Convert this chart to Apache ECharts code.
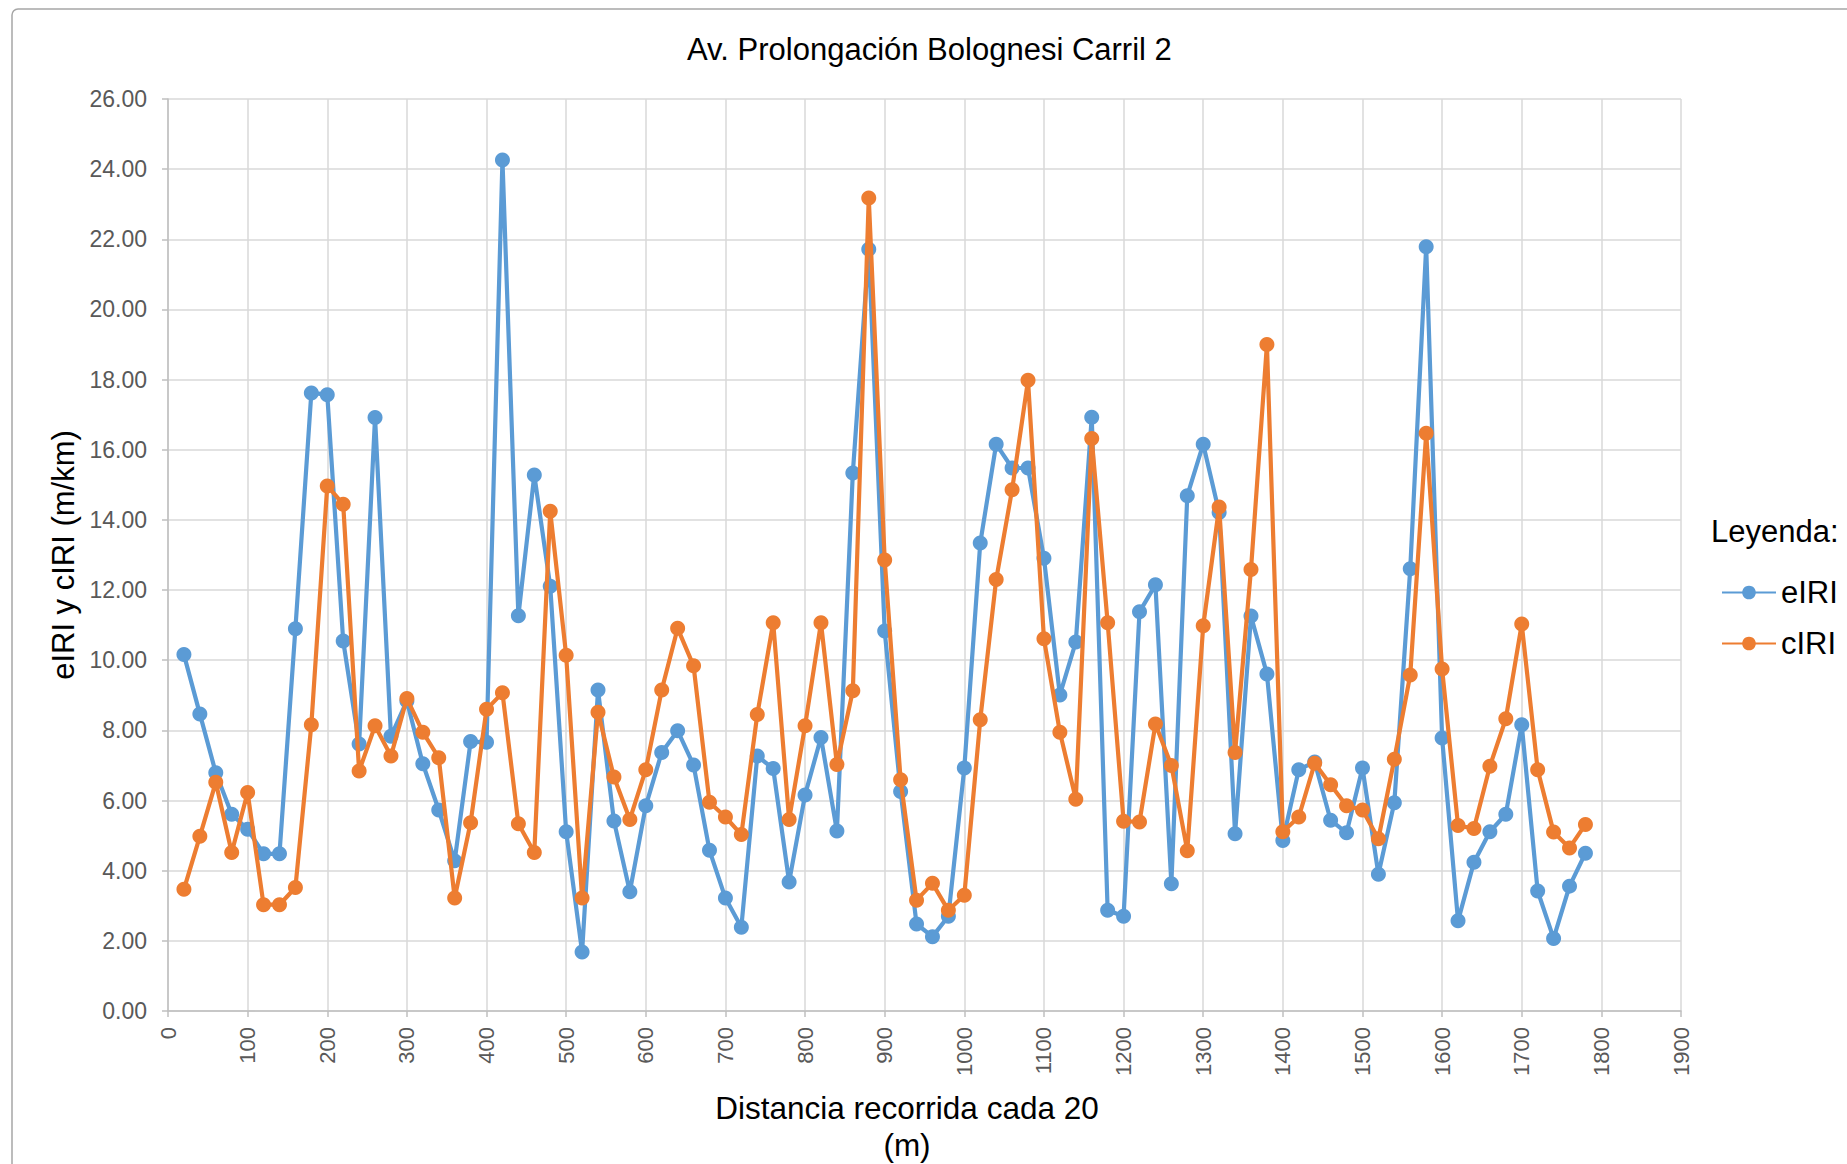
<!DOCTYPE html>
<html>
<head>
<meta charset="utf-8">
<title>Av. Prolongación Bolognesi Carril 2</title>
<script src="https://cdn.jsdelivr.net/npm/echarts@6/dist/echarts.min.js"></script>
<style>
  html, body { margin: 0; padding: 0; background: #ffffff; }
  #chart { width: 1847px; height: 1164px; }
</style>
</head>
<body>
<div id="chart"></div>
<script>
// Distance along the lane (m), one reading every 20 m
const distancias = [
  20, 40, 60, 80, 100, 120, 140, 160, 180, 200,
  220, 240, 260, 280, 300, 320, 340, 360, 380, 400,
  420, 440, 460, 480, 500, 520, 540, 560, 580, 600,
  620, 640, 660, 680, 700, 720, 740, 760, 780, 800,
  820, 840, 860, 880, 900, 920, 940, 960, 980, 1000,
  1020, 1040, 1060, 1080, 1100, 1120, 1140, 1160, 1180, 1200,
  1220, 1240, 1260, 1280, 1300, 1320, 1340, 1360, 1380, 1400,
  1420, 1440, 1460, 1480, 1500, 1520, 1540, 1560, 1580, 1600,
  1620, 1640, 1660, 1680, 1700, 1720, 1740, 1760, 1780
];

// eIRI (m/km)
const eIRI = [
  10.16, 8.47, 6.79, 5.61, 5.18, 4.48, 4.48, 10.90, 17.62, 17.57,
  10.55, 7.61, 16.92, 7.83, 8.84, 7.05, 5.73, 4.28, 7.68, 7.66,
  24.26, 11.27, 15.28, 12.11, 5.11, 1.68, 9.15, 5.42, 3.40, 5.85,
  7.37, 7.99, 7.01, 4.58, 3.22, 2.39, 7.27, 6.91, 3.68, 6.16,
  7.80, 5.13, 15.34, 21.72, 10.83, 6.26, 2.48, 2.12, 2.70, 6.93,
  13.34, 16.16, 15.48, 15.48, 12.91, 9.01, 10.52, 16.93, 2.87, 2.70,
  11.38, 12.15, 3.63, 14.69, 16.16, 14.21, 5.05, 11.26, 9.61, 4.86,
  6.88, 7.10, 5.44, 5.08, 6.93, 3.90, 5.94, 12.61, 21.79, 7.78,
  2.57, 4.24, 5.11, 5.61, 8.16, 3.42, 2.07, 3.56, 4.50
];

// cIRI (m/km)
const cIRI = [
  3.47, 4.98, 6.52, 4.52, 6.23, 3.03, 3.03, 3.52, 8.16, 14.97,
  14.45, 6.84, 8.13, 7.27, 8.91, 7.95, 7.22, 3.22, 5.37, 8.60,
  9.07, 5.34, 4.52, 14.25, 10.14, 3.22, 8.52, 6.67, 5.46, 6.88,
  9.15, 10.91, 9.84, 5.95, 5.53, 5.03, 8.45, 11.07, 5.46, 8.13,
  11.07, 7.03, 9.13, 23.18, 12.86, 6.59, 3.16, 3.64, 2.87, 3.30,
  8.30, 12.30, 14.86, 17.98, 10.61, 7.95, 6.04, 16.32, 11.07, 5.41,
  5.39, 8.18, 7.00, 4.57, 10.98, 14.37, 7.37, 12.59, 19.00, 5.11,
  5.53, 7.06, 6.45, 5.85, 5.73, 4.91, 7.18, 9.58, 16.47, 9.75,
  5.29, 5.20, 6.98, 8.33, 11.03, 6.88, 5.10, 4.65, 5.32
];

const FONT = '"Liberation Sans", Arial, sans-serif';
const AZUL = '#5B9BD5';
const NARANJA = '#ED7D31';

function pares(xs, ys) {
  return xs.map((x, i) => [x, ys[i]]);
}

const chart = echarts.init(document.getElementById('chart'), null, { renderer: 'svg' });

chart.setOption({
  backgroundColor: '#ffffff',
  animation: false,
  textStyle: { fontFamily: FONT },
  title: [
    {
      text: 'Av. Prolongación Bolognesi Carril 2',
      left: 687,
      top: 34,
      padding: 0,
      textStyle: { fontFamily: FONT, fontSize: 31, fontWeight: 'normal', color: '#000000' }
    },
    {
      text: 'Leyenda:',
      left: 1711,
      top: 516,
      padding: 0,
      textStyle: { fontFamily: FONT, fontSize: 31, fontWeight: 'normal', color: '#000000' }
    }
  ],
  legend: {
    orient: 'vertical',
    left: 1721,
    top: 577,
    padding: 0,
    itemWidth: 54,
    itemHeight: 17,
    itemGap: 20,
    textStyle: { fontFamily: FONT, fontSize: 31, color: '#000000', lineHeight: 31, padding: [0, 0, 0, 0] },
    data: ['eIRI', 'cIRI']
  },
  grid: {
    left: 168,
    right: 166,
    top: 99,
    bottom: 153,
    containLabel: false,
    outerBoundsMode: 'none'
  },
  xAxis: {
    type: 'value',
    min: 0,
    max: 1900,
    interval: 100,
    name: 'Distancia recorrida cada 20\n(m)',
    nameLocation: 'middle',
    nameGap: 78,
    nameTextStyle: { fontFamily: FONT, fontSize: 31.5, color: '#000000', lineHeight: 37, padding: [0, 35, 0, 0] },
    axisLine: { show: true, lineStyle: { color: '#bfbfbf', width: 1.5 } },
    axisTick: { show: true, length: 6, lineStyle: { color: '#bfbfbf', width: 1.5 } },
    axisLabel: {
      rotate: 90,
      margin: 16,
      fontFamily: FONT,
      fontSize: 22,
      color: '#595959',
      formatter: v => String(v)
    },
    splitLine: { show: true, lineStyle: { color: '#d9d9d9', width: 1.5 } }
  },
  yAxis: {
    type: 'value',
    min: 0,
    max: 26,
    interval: 2,
    name: 'eIRI y cIRI (m/km)',
    nameLocation: 'middle',
    nameRotate: 90,
    nameGap: 87,
    nameTextStyle: { fontFamily: FONT, fontSize: 31, color: '#000000' },
    axisLine: { show: true, lineStyle: { color: '#bfbfbf', width: 1.5 } },
    axisTick: { show: true, length: 6, lineStyle: { color: '#bfbfbf', width: 1.5 } },
    axisLabel: {
      margin: 21,
      fontFamily: FONT,
      fontSize: 23,
      color: '#595959',
      formatter: v => v.toFixed(2)
    },
    splitLine: { show: true, lineStyle: { color: '#d9d9d9', width: 1.5 } }
  },
  graphic: [
    {
      type: 'rect',
      silent: true,
      shape: { x: 12, y: 9, width: 1900, height: 1250, r: 6 },
      style: { fill: 'none', stroke: '#a6a6a6', lineWidth: 1.5 },
      z: -1
    }
  ],
  series: [
    {
      name: 'eIRI',
      type: 'line',
      data: pares(distancias, eIRI),
      symbol: 'circle',
      symbolSize: 15,
      lineStyle: { color: AZUL, width: 4.2 },
      itemStyle: { color: AZUL },
      z: 2
    },
    {
      name: 'cIRI',
      type: 'line',
      data: pares(distancias, cIRI),
      symbol: 'circle',
      symbolSize: 15,
      lineStyle: { color: NARANJA, width: 4.2 },
      itemStyle: { color: NARANJA },
      z: 3
    }
  ]
});
</script>
</body>
</html>
